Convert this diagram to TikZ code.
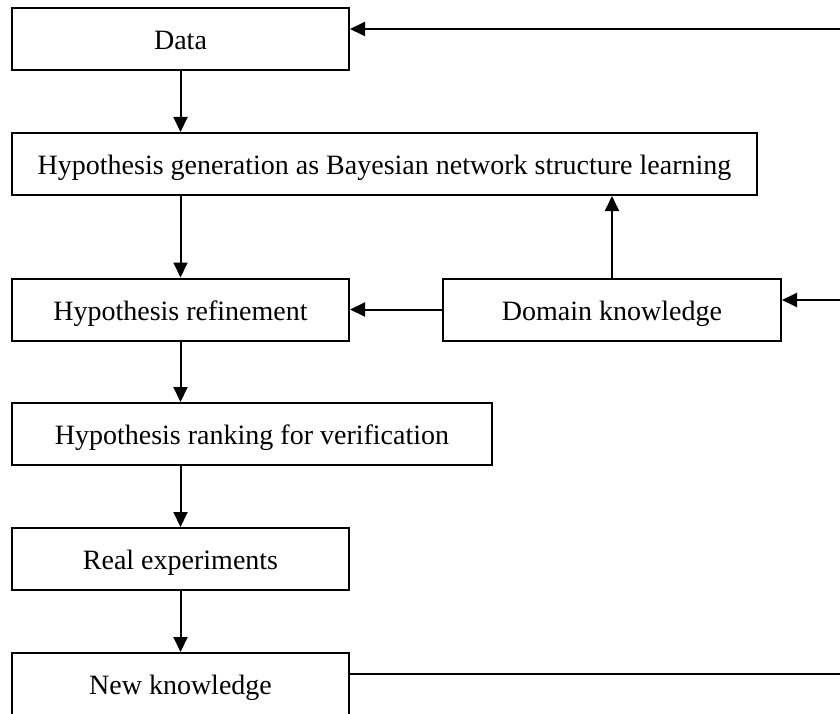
\documentclass[tikz,border=0pt]{standalone}
\usepackage{fontspec}
\setmainfont{Liberation Serif}
\usetikzlibrary{arrows.meta}
\begin{document}
\begin{tikzpicture}[x=1pt,y=-1pt,
  stage/.style={draw, line width=2pt, rectangle, minimum height=62pt,
    inner sep=0pt, text height=24pt, text depth=3pt,
    font=\fontsize{28}{32}\selectfont},
  link/.style={line width=2pt, -{Triangle[length=15pt,width=14pt]}},
  plain/.style={line width=2pt}]
\useasboundingbox (0,0) rectangle (840,714);
\fill[white] (0,0) rectangle (840,714);
\clip (0,0) rectangle (840,714);

% process stages
\node[stage, minimum width=337pt] (data) at (180.5,39) {Data};
\node[stage, minimum width=745pt] (gen)  at (384.5,164) {Hypothesis generation as Bayesian network structure learning};
\node[stage, minimum width=337pt] (ref)  at (180.5,309.5) {Hypothesis refinement};
\node[stage, minimum width=338pt] (dk)   at (612,309.5) {Domain knowledge};
\node[stage, minimum width=480pt] (rank) at (252,434) {Hypothesis ranking for verification};
\node[stage, minimum width=337pt] (exp)  at (180.5,559) {Real experiments};
\node[stage, minimum width=337pt] (newk) at (180.5,684) {New knowledge};

% main chain
\draw[link] (data.south) -- (data.south |- gen.north);
\draw[link] (ref.north |- gen.south) -- (ref.north);
\draw[link] (ref.south) -- (ref.south |- rank.north);
\draw[link] (exp.north |- rank.south) -- (exp.north);
\draw[link] (exp.south) -- (newk.north);

% domain knowledge inputs
\draw[link] (dk.west) -- (ref.east);
\draw[link] (dk.north) -- (dk.north |- gen.south);

% feedback loop along the right side
\coordinate (fbtop) at (846,29);
\coordinate (fbmid) at (846,300);
\coordinate (fbbot) at (846,674);
\draw[plain] (fbbot -| newk.east) -- (fbbot) -- (fbtop);
\draw[link] (fbtop) -- (fbtop -| data.east);
\draw[link] (fbmid) -- (fbmid -| dk.east);
\end{tikzpicture}
\end{document}
